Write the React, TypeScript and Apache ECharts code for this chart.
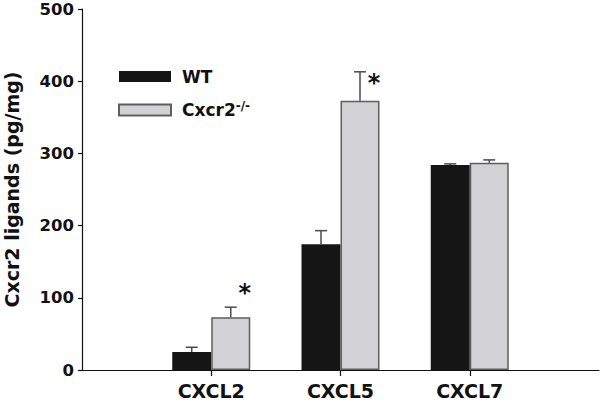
import React, { useEffect, useRef } from "react";
import * as echarts from "echarts";

const categories = ["", "CXCL2", "CXCL5", "CXCL7", ""];
const wtValues = ["-", 25, 174, 284, "-"];
const wtErrors = [0, 6.5, 19, 1.5, 0];
const koValues = ["-", 73, 373, 287, "-"];
const koErrors = [0, 14, 40, 4, 0];
const koStarValues = [null, 106, 397, null, null];
const yTicks = { min: 0, max: 500, interval: 100 };

const FONT = "DejaVu Sans";
const BAR_W = 39;

export default function App() {
  const ref = useRef<HTMLDivElement>(null);
  useEffect(() => {
    if (!ref.current) return;
    const chart = echarts.init(ref.current, null, { renderer: "svg" });

    const errData = (vals: any[], errs: number[], side: number) =>
      vals
        .map((v, i) => (typeof v === "number" ? [i, v, errs[i], side] : null))
        .filter((d) => d !== null);

    const renderErr = (params: any, api: any) => {
      const i = api.value(0);
      const v = api.value(1);
      const e = api.value(2);
      const side = api.value(3);
      const base = api.coord([i, v]);
      const top = api.coord([i, v + e]);
      const x = base[0] + (side * BAR_W) / 2;
      const cap = 6;
      const style = { stroke: "#4a4a4a", lineWidth: 1.5 };
      return {
        type: "group",
        children: [
          { type: "line", shape: { x1: x, y1: base[1], x2: x, y2: top[1] }, style },
          { type: "line", shape: { x1: x - cap, y1: top[1], x2: x + cap, y2: top[1] }, style },
        ],
      };
    };

    const starData = koStarValues
      .map((v, i) => (v === null ? null : [i, v]))
      .filter((d) => d !== null);

    chart.setOption({
      animation: false,
      grid: {
        left: 82,
        right: 1,
        top: 9,
        bottom: 32,
        containLabel: false,
        outerBoundsMode: "none",
      },
      legend: {
        data: ["WT", "Cxcr2-/-"],
        orient: "vertical",
        left: 113,
        top: 63,
        itemWidth: 52,
        itemHeight: 11,
        itemGap: 15,
        icon: "rect",
        formatter: (name: string) =>
          name === "WT" ? "{a|WT}" : "{a|Cxcr2}{sup|-/-}",
        textStyle: {
          fontFamily: FONT,
          fontWeight: "bold",
          fontSize: 17,
          color: "#111",
          rich: {
            a: {
              fontFamily: FONT,
              fontWeight: "bold",
              fontSize: 17,
              color: "#111",
              lineHeight: 20,
              padding: [0, 0, 0, 6],
            },
            sup: {
              fontFamily: FONT,
              fontWeight: "bold",
              fontSize: 12,
              color: "#111",
              verticalAlign: "bottom",
              padding: [0, 0, 8, 0],
              lineHeight: 20,
            },
          },
        },
      },
      xAxis: {
        type: "category",
        data: categories,
        boundaryGap: false,
        axisLine: { lineStyle: { color: "#111", width: 1.2 } },
        axisTick: {
          interval: (i: number) => i > 0 && i < categories.length - 1,
          length: 6,
          lineStyle: { color: "#111", width: 1.2 },
        },
        axisLabel: {
          interval: 0,
          margin: 11,
          fontFamily: FONT,
          fontWeight: "bold",
          fontSize: 19,
          color: "#111",
        },
        splitLine: { show: false },
      },
      yAxis: {
        type: "value",
        min: yTicks.min,
        max: yTicks.max,
        interval: yTicks.interval,
        name: "Cxcr2 ligands (pg/mg)",
        nameLocation: "middle",
        nameGap: 61,
        nameRotate: 90,
        nameTextStyle: {
          fontFamily: FONT,
          fontWeight: "bold",
          fontSize: 19,
          color: "#111",
        },
        axisLine: { show: true, lineStyle: { color: "#111", width: 1.2 } },
        axisTick: { show: true, length: 4, lineStyle: { color: "#111", width: 1.2 } },
        axisLabel: {
          margin: 8,
          fontFamily: FONT,
          fontWeight: "bold",
          fontSize: 16.5,
          color: "#111",
        },
        splitLine: { show: false },
      },
      series: [
        {
          name: "WT",
          type: "bar",
          data: wtValues,
          barWidth: BAR_W,
          barGap: "0%",
          itemStyle: { color: "#151515" },
        },
        {
          name: "Cxcr2-/-",
          type: "bar",
          data: koValues,
          barWidth: BAR_W,
          barGap: "0%",
          itemStyle: { color: "#d2d2d4", borderColor: "#5e5e5e", borderWidth: 1.5 },
        },
        {
          name: "wtErr",
          type: "custom",
          renderItem: renderErr,
          data: errData(wtValues, wtErrors, -1),
          z: 5,
          silent: true,
        },
        {
          name: "koErr",
          type: "custom",
          renderItem: renderErr,
          data: errData(koValues, koErrors, 1),
          z: 5,
          silent: true,
        },
        {
          name: "stars",
          type: "custom",
          data: starData,
          z: 6,
          silent: true,
          renderItem: (params: any, api: any) => {
            const p = api.coord([api.value(0), api.value(1)]);
            return {
              type: "text",
              x: p[0] + BAR_W / 2 + 14,
              y: p[1],
              style: {
                text: "*",
                fontFamily: FONT,
                fontWeight: "bold",
                fontSize: 24,
                fill: "#111",
                align: "center",
                verticalAlign: "middle",
              },
            };
          },
        },
      ],
    });
    return () => chart.dispose();
  }, []);
  return <div ref={ref} style={{ width: 600, height: 402, position: "absolute", left: 0, top: 0 }} />;
}
